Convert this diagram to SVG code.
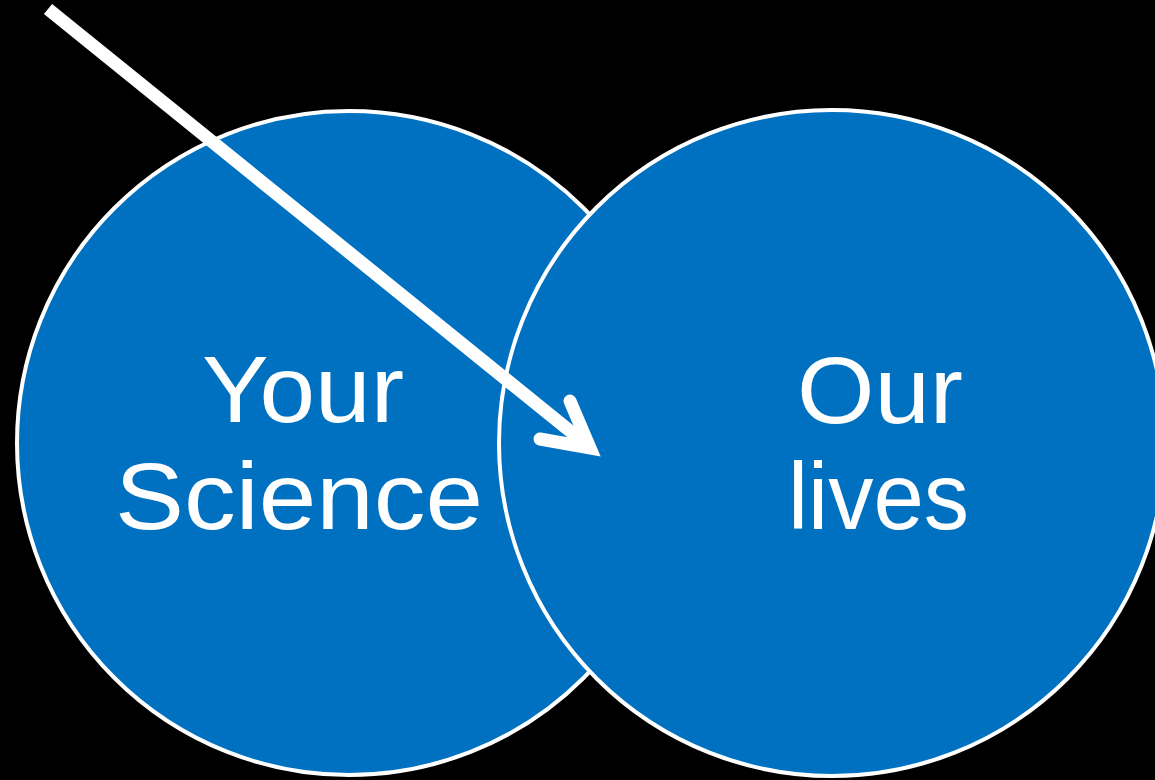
<svg xmlns="http://www.w3.org/2000/svg" width="1155" height="780" viewBox="0 0 1155 780">
<style>
.circ{fill:#0070C0;stroke:#FFFFFF;stroke-width:4}
.lbl{font-family:"Liberation Sans","DejaVu Sans",sans-serif;font-size:94px;fill:#FFFFFF}
.arr{fill:none;stroke:#FFFFFF;stroke-width:13}
</style>
<rect x="0" y="0" width="1155" height="780" fill="#000000"/>
<g id="node-science">
<circle class="circ" cx="349" cy="443" r="332"/>
<text class="lbl" x="202" y="422" textLength="202" lengthAdjust="spacingAndGlyphs">Your</text>
<text class="lbl" x="115" y="529" textLength="368" lengthAdjust="spacingAndGlyphs">Science</text>
</g>
<g id="node-lives">
<circle class="circ" cx="832" cy="443" r="333"/>
<text class="lbl" x="797" y="423" textLength="166" lengthAdjust="spacingAndGlyphs">Our</text>
<text class="lbl" x="788" y="529" textLength="181" lengthAdjust="spacingAndGlyphs">lives</text>
</g>
<g id="connectors">
<line class="arr" x1="48" y1="9" x2="586" y2="444" stroke-linecap="butt"/>
<polyline class="arr" points="570,401 590,448 540,439" stroke-linecap="round" stroke-linejoin="miter"/>
</g>
</svg>
